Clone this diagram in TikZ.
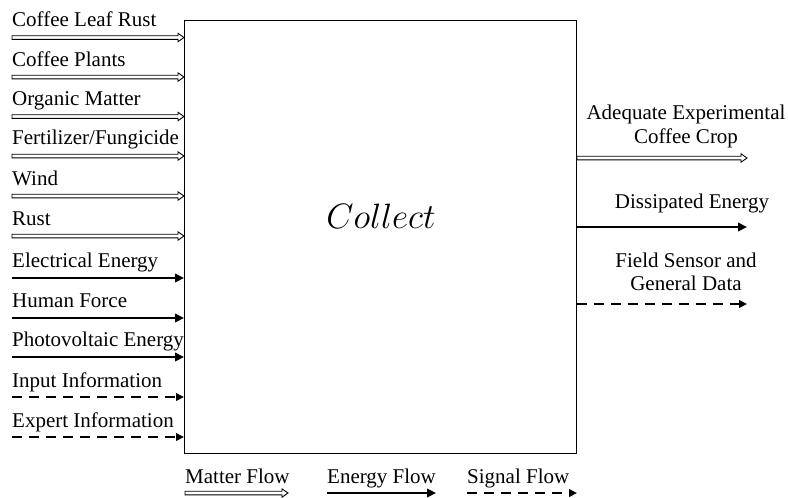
\documentclass[tikz,border=0pt]{standalone}
\usepackage{graphicx}
\usepackage{fontspec}
\setmainfont{Liberation Serif}
\usetikzlibrary{arrows.meta,calc}
\begin{document}
\begin{tikzpicture}[x=1pt,y=-1pt,
  lbl/.style={font=\fontsize{21}{24}\selectfont, inner sep=0pt, anchor=base west},
  rlbl/.style={font=\fontsize{21}{24}\selectfont, inner sep=0pt, anchor=base},
  energy/.style={line width=2.7pt, -{Triangle[length=9pt,width=8.5pt]}},
  signal/.style={line width=2.7pt, dash pattern=on 10pt off 7pt, -{Triangle[length=8pt,width=7.5pt]}},
  matter/.style={line width=0.9pt, line join=miter, to path={
    ($(\tikztostart)+(0,-1.8)$) -- ($(\tikztotarget)+(-6,-1.8)$) -- ($(\tikztotarget)+(-6,-4.2)$)
    -- (\tikztotarget) -- ($(\tikztotarget)+(-6,4.2)$) -- ($(\tikztotarget)+(-6,1.8)$)
    -- ($(\tikztostart)+(0,1.8)$) -- cycle}}]
\useasboundingbox (0,0) rectangle (788,498);

% main function box
\node[draw, line width=0.9pt, minimum width=392pt, minimum height=433pt,
      anchor=north west, inner sep=0pt] (box) at (184,20) {};
\node[font=\fontsize{21}{24}\selectfont, inner sep=0pt, anchor=base] (title) at (381,228) {\scalebox{1.7}{$Collect$}};

% left inputs: start coordinates
\coordinate (s0) at (12,37.5);
\coordinate (s1) at (12,77);
\coordinate (s2) at (12,116.5);
\coordinate (s3) at (12,156);
\coordinate (s4) at (12,196);
\coordinate (s5) at (12,236);
\coordinate (s6) at (12,278);
\coordinate (s7) at (12,318);
\coordinate (s8) at (12,357);
\coordinate (s9) at (12,397);
\coordinate (s10) at (12,437);
\foreach \i in {0,...,10}{\coordinate (t\i) at (box.west |- s\i);}

\node[lbl] (l0) at (12,26.5) {Coffee Leaf Rust};
\node[lbl] (l1) at (12,66) {Coffee Plants};
\node[lbl] (l2) at (12,105) {Organic Matter};
\node[lbl] (l3) at (12,144.5) {Fertilizer/Fungicide};
\node[lbl] (l4) at (12,185) {Wind};
\node[lbl] (l5) at (12,225) {Rust};
\node[lbl] (l6) at (12,267.5) {Electrical Energy};
\node[lbl] (l7) at (12,307) {Human Force};
\node[lbl] (l8) at (12,346.5) {Photovoltaic Energy};
\node[lbl] (l9) at (12,387.5) {Input Information};
\node[lbl] (l10) at (12,427) {Expert Information};

\foreach \i in {0,...,5}{\draw[matter] (s\i) to (t\i);}
\foreach \i in {6,7,8}{\draw[energy] (s\i) -- (t\i);}
\foreach \i in {9,10}{\draw[signal] (s\i) -- (t\i);}

% right outputs
\coordinate (e0) at (747,158);
\coordinate (e1) at (747,227);
\coordinate (e2) at (747,304);
\foreach \i in {0,1,2}{\coordinate (b\i) at (box.east |- e\i);}
\draw[matter] (b0) to (e0);
\draw[energy] (b1) -- (e1);
\draw[signal] (b2) -- (e2);

\node[rlbl] (o0a) at (686,119) {Adequate Experimental};
\node[rlbl] (o0b) at (686,143) {Coffee Crop};
\node[rlbl] (o1) at (692,208) {Dissipated Energy};
\node[rlbl] (o2a) at (686,267) {Field Sensor and};
\node[rlbl] (o2b) at (686,290.5) {General Data};

% legend
\node[lbl] (mf) at (185,483) {Matter Flow};
\node[lbl] (ef) at (327,483) {Energy Flow};
\node[lbl] (sf) at (467,483) {Signal Flow};
\coordinate (ma) at (185,493); \coordinate (mb) at (288,493);
\coordinate (ea) at (327,493); \coordinate (eb) at (436,493);
\coordinate (sa) at (467,493); \coordinate (sb) at (577,493);
\draw[matter] (ma) to (mb);
\draw[energy] (ea) -- (eb);
\draw[signal] (sa) -- (sb);
\end{tikzpicture}
\end{document}
